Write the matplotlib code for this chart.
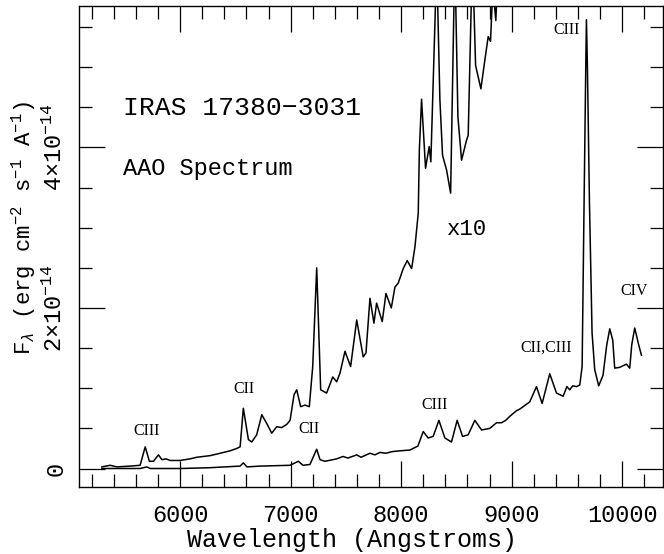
import matplotlib
matplotlib.use("Agg")
import matplotlib.pyplot as plt
from matplotlib.ticker import MultipleLocator, FixedLocator

plt.rcParams['font.family'] = ['Liberation Mono', 'DejaVu Sans Mono']
plt.rcParams['mathtext.fontset'] = 'custom'
plt.rcParams['mathtext.rm'] = 'Liberation Mono'
plt.rcParams['mathtext.it'] = 'Liberation Mono:italic'
plt.rcParams['mathtext.bf'] = 'Liberation Mono:bold'

# wavelength in Angstroms, flux in units of 1e-14 erg cm^-2 s^-1 A^-1
wave_obs = [5292, 5457, 5638, 5699, 5729, 6000, 6271, 6543, 6572, 6605,
            6723, 6995, 7070, 7112, 7175, 7236, 7266, 7311, 7417, 7474,
            7519, 7598, 7637, 7718, 7763, 7808, 7863, 7917, 7989, 8080,
            8152, 8200, 8245, 8290, 8342, 8396, 8456, 8507, 8556, 8607,
            8667, 8728, 8803, 8863, 8908, 8947, 8984, 9044, 9074, 9164,
            9225, 9276, 9345, 9406, 9466, 9500, 9526, 9553, 9587, 9617,
            9638, 9656, 9671, 9677, 9686, 9704, 9728, 9752, 9788, 9827,
            9861, 9888, 9915, 9933, 9978, 10039, 10069, 10087, 10114, 10150,
            10175]
flux_obs = [0.00, 0.00, 0.00, 0.02, 0.00, 0.00, 0.01, 0.03, 0.07, 0.02,
            0.03, 0.04, 0.09, 0.04, 0.05, 0.24, 0.11, 0.09, 0.12, 0.15,
            0.13, 0.17, 0.14, 0.19, 0.17, 0.20, 0.19, 0.21, 0.22, 0.23,
            0.28, 0.46, 0.38, 0.40, 0.60, 0.38, 0.33, 0.60, 0.40, 0.42,
            0.60, 0.48, 0.50, 0.57, 0.57, 0.60, 0.65, 0.72, 0.74, 0.83,
            1.02, 0.81, 1.18, 0.94, 0.90, 1.02, 0.98, 1.03, 1.02, 1.04,
            1.27, 3.34, 5.00, 5.59, 5.00, 3.34, 1.69, 1.23, 1.03, 1.16,
            1.54, 1.74, 1.60, 1.25, 1.26, 1.30, 1.25, 1.54, 1.75, 1.54,
            1.41]

# same spectrum multiplied by 10 (runs off the top of the plot)
wave_x10 = [5292, 5367, 5428, 5548, 5638, 5684, 5722, 5759, 5804, 5835,
            5873, 5910, 6000, 6090, 6151, 6211, 6271, 6332, 6392, 6452,
            6513, 6543, 6572, 6618, 6648, 6693, 6739, 6784, 6829, 6874,
            6920, 6965, 6995, 7031, 7055, 7091, 7130, 7169, 7200, 7236,
            7272, 7326, 7381, 7417, 7447, 7492, 7543, 7598, 7657, 7682,
            7718, 7754, 7778, 7829, 7863, 7911, 7944, 7974, 8019, 8055,
            8095, 8125, 8155, 8165, 8185, 8221, 8254, 8269, 8322, 8351,
            8375, 8411, 8448, 8486, 8514, 8547, 8592, 8607, 8645, 8674,
            8722, 8758, 8788, 8809, 8830, 8857, 8885]
flux_x10 = [0.02, 0.04, 0.02, 0.03, 0.04, 0.27, 0.09, 0.09, 0.17, 0.11,
            0.12, 0.10, 0.10, 0.12, 0.14, 0.15, 0.16, 0.18, 0.20, 0.22,
            0.25, 0.27, 0.75, 0.36, 0.33, 0.42, 0.67, 0.56, 0.44, 0.52,
            0.51, 0.55, 0.60, 0.92, 0.98, 0.77, 0.79, 0.77, 1.27, 2.50,
            0.98, 0.94, 1.14, 1.08, 1.19, 1.46, 1.27, 1.85, 1.39, 1.44,
            2.12, 1.81, 2.06, 1.83, 2.18, 2.00, 2.26, 2.31, 2.49, 2.59,
            2.49, 2.76, 3.18, 3.97, 4.60, 3.74, 4.01, 3.82, 6.30, 4.59,
            3.90, 3.72, 3.43, 6.40, 4.38, 3.84, 4.09, 4.15, 6.40, 5.02,
            4.73, 5.09, 5.38, 5.32, 6.00, 5.58, 6.50]

xtick_vals = [6000, 7000, 8000, 9000, 10000]
ytick_vals = [0, 2, 4]
ytick_labels = ["0", r"2$\times$10$^{-14}$", r"4$\times$10$^{-14}$"]

line_ids = ["CIII", "CII", "CII", "CIII", "CII,CIII", "CIII", "CIV"]
line_wave = [5697, 6579, 7166, 8306, 9309, 9496, 10105]
line_flux = [0.47, 0.99, 0.49, 0.79, 1.51, 5.46, 2.21]

fig = plt.figure(figsize=(6.64, 5.54), dpi=100)
ax = fig.add_axes([0.119, 0.121, 0.8795, 0.868])

ax.plot(wave_x10, flux_x10, color='black', lw=1.1)
ax.plot(wave_obs, flux_obs, color='black', lw=1.1)

ax.set_xlim(5085, 10370)
ax.set_ylim(-0.23, 5.76)

ax.xaxis.set_major_locator(FixedLocator(xtick_vals))
ax.xaxis.set_minor_locator(MultipleLocator(200))
ax.yaxis.set_major_locator(FixedLocator(ytick_vals))
ax.yaxis.set_minor_locator(MultipleLocator(0.5))
ax.set_yticklabels(ytick_labels, rotation=90, va='center')

ax.tick_params(which='both', direction='in', top=True, right=True, width=0.9)
ax.tick_params(which='major', length=19)
ax.tick_params(which='minor', length=9.5)
ax.tick_params(axis='x', labelsize=17, pad=12)
ax.tick_params(axis='y', labelsize=17, pad=8.5)
for sp in ax.spines.values():
    sp.set_linewidth(1.0)

ax.set_xlabel("Wavelength (Angstroms)", fontsize=18)
ax.xaxis.set_label_coords(0.467, -0.085)
ax.set_ylabel(r"F$_\lambda$ (erg cm$^{-2}$ s$^{-1}$ A$^{-1}$)", fontsize=16)
ax.yaxis.set_label_coords(-0.07, 0.538)

ax.text(5487, 4.49, "IRAS 17380\u22123031", fontsize=19, va='center', ha='left')
ax.text(5487, 3.74, "AAO Spectrum", fontsize=17, va='center', ha='left')
ax.text(8411, 2.98, "x10", fontsize=16, va='center', ha='left')

for name, w, f in zip(line_ids, line_wave, line_flux):
    ax.text(w, f, name, fontsize=11.5, family='Liberation Serif', ha='center', va='center')

fig.savefig("out.png", dpi=100)
